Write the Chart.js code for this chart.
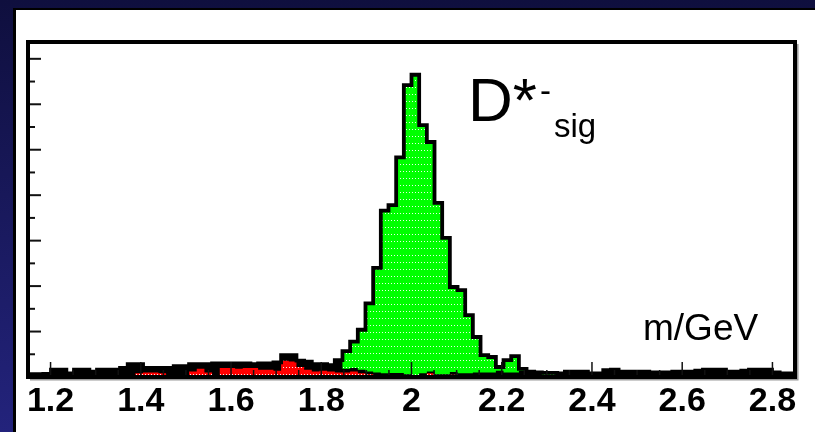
<!DOCTYPE html>
<html>
<head>
<meta charset="utf-8">
<script src="https://cdn.jsdelivr.net/npm/chart.js@4.4.1/dist/chart.umd.min.js"></script>
<style>
    html, body { margin: 0; padding: 0; width: 815px; height: 432px; overflow: hidden; }
    body { position: relative; background: linear-gradient(#0f0f3e, #23237c); font-family: "Liberation Sans", Arial, sans-serif; }
    #panel { position: absolute; left: 13px; top: 8px; right: -10px; bottom: -10px; background: #fff; border-left: 3px solid #000; border-top: 2px solid #000; }
    #chart { position: absolute; left: 0; top: 0; }
    .lbl { position: absolute; line-height: 1; white-space: nowrap; color: #000; }
</style>
</head>
<body>
<div id="panel"></div>
<canvas id="chart" width="815" height="432"></canvas>
<div class="lbl" style="left:468px; top:69px; font-size:62px;">D*</div>
<div class="lbl" style="left:540px; top:74px; font-size:33px;">-</div>
<div class="lbl" style="left:554px; top:109px; font-size:33px;">sig</div>
<div class="lbl" style="left:643px; top:309px; font-size:37px;">m/GeV</div>
<script>
// Mass histogram: 100 bins between 1.15 and 2.85 GeV
const X_MIN = 1.15;
const X_MAX = 2.85;
const N_BINS = 100;

const xTicks = [1.2, 1.4, 1.6, 1.8, 2.0, 2.2, 2.4, 2.6, 2.8];
const yMajorTicks = [100, 200, 300, 400, 500, 600, 700];
const yMinorTicks = [50, 150, 250, 350, 450, 550, 650];

// signal component (green)
const signal = [
    0, 0, 0, 0, 0, 0, 0, 0, 0, 0,
    0, 0, 0, 0, 0, 0, 0, 0, 0, 0,
    0, 0, 0, 0, 0, 0, 0, 0, 0, 0,
    0, 0, 0, 0, 0, 0, 0, 0, 0, 0,
    0, 39, 58, 88, 150, 230, 358, 369, 474, 636,
    661, 546, 505, 377, 300, 187, 183, 128, 78, 38,
    34, 8, 27, 36, 4, 0, 0, 4, 4, 0,
    0, 0, 0, 0, 0, 0, 0, 0, 0, 0,
    0, 0, 0, 0, 0, 0, 0, 0, 0, 0,
    0, 0, 0, 0, 0, 0, 0, 0, 0, 0
];

// red background, bottom of the stack
const redBg = [
    0, 0, 0, 0, 2, 0, 2, 0, 0, 0,
    2, 0, 0, 4, 8, 10, 10, 8, 0, 0,
    0, 12, 18, 10, 4, 20, 20, 18, 20, 20,
    16, 16, 14, 36, 34, 22, 16, 12, 14, 12,
    10, 10, 12, 8, 6, 4, 0, 3, 3, 0,
    0, 4, 8, 0, 0, 5, 0, 0, 0, 0,
    0, 0, 0, 0, 0, 0, 0, 0, 0, 0,
    0, 0, 0, 0, 0, 0, 0, 0, 0, 0,
    0, 0, 0, 0, 0, 0, 0, 0, 0, 0,
    0, 0, 0, 0, 0, 0, 0, 0, 0, 0
];

// remaining background (black)
const otherBg = [
    6, 6, 7, 16, 14, 8, 14, 16, 12, 16,
    14, 16, 20, 24, 20, 10, 10, 12, 20, 24,
    24, 16, 10, 18, 26, 10, 10, 12, 10, 8,
    14, 14, 18, 12, 14, 14, 18, 16, 14, 14,
    27, 8, 8, 8, 6, 6, 8, 6, 6, 6,
    4, 4, 4, 6, 6, 6, 8, 8, 10, 10,
    10, 14, 10, 10, 14, 12, 10, 5, 5, 8,
    12, 12, 12, 8, 8, 15, 16, 12, 12, 12,
    12, 10, 10, 10, 12, 12, 12, 14, 16, 16,
    16, 12, 12, 14, 16, 16, 16, 10, 8, 8
];

const binWidth = (X_MAX - X_MIN) / N_BINS;
const total = signal.map((v, i) => v + redBg[i] + otherBg[i]);

// one point per lower bin edge, plus the closing upper edge
function toSteps(values) {
    const pts = values.map((v, i) => ({ x: X_MIN + i * binWidth, y: v }));
    pts.push({ x: X_MAX, y: values[values.length - 1] });
    return pts;
}

const xMinorTicks = [];
for (let v = 1.15; v < 2.86; v += 0.05) {
    const r = Math.round(v * 100) / 100;
    if (!xTicks.some(t => Math.abs(t - r) < 1e-6)) xMinorTicks.push(r);
}

const canvas = document.getElementById('chart');
const ctx = canvas.getContext('2d');

function dotPattern(color) {
    const c = document.createElement('canvas');
    c.width = 3;
    c.height = 7;
    const g = c.getContext('2d');
    g.fillStyle = color;
    g.fillRect(0, 0, 3, 7);
    g.fillStyle = 'rgba(255,255,255,0.9)';
    g.fillRect(1, 3, 1, 1);
    return ctx.createPattern(c, 'repeat');
}

// frame and inward ticks, drawn over the histogram
const frameAndTicks = {
    id: 'frameAndTicks',
    afterDatasetsDraw(chart) {
        const { ctx, chartArea: a, scales: { x, y } } = chart;
        const seg = (x1, y1, x2, y2) => {
            ctx.beginPath();
            ctx.moveTo(x1, y1);
            ctx.lineTo(x2, y2);
            ctx.stroke();
        };
        ctx.save();
        ctx.strokeStyle = '#111';
        ctx.lineWidth = 2;
        yMajorTicks.forEach(v => { const p = y.getPixelForValue(v); seg(a.left, p, a.left + 13, p); });
        yMinorTicks.forEach(v => { const p = y.getPixelForValue(v); seg(a.left, p, a.left + 7, p); });
        ctx.lineWidth = 1.5;
        xTicks.forEach(v => { const p = x.getPixelForValue(v); seg(p, a.bottom, p, a.bottom - 15); });
        xMinorTicks.forEach(v => { const p = x.getPixelForValue(v); seg(p, a.bottom, p, a.bottom - 7); });

        ctx.strokeStyle = '#000';
        ctx.lineWidth = 4;
        ctx.strokeRect(a.left, a.top, a.right - a.left, a.bottom - a.top);

        ctx.strokeStyle = '#9a9a9a';
        ctx.lineWidth = 1.5;
        ctx.beginPath();
        ctx.moveTo(a.left + 2, a.bottom + 2.8);
        ctx.lineTo(a.right + 2.8, a.bottom + 2.8);
        ctx.lineTo(a.right + 2.8, a.top + 2);
        ctx.stroke();
        ctx.restore();
    }
};

// 'before': horizontal run at the bin's value, then the vertical edge
const stepDefaults = { stepped: 'before', pointRadius: 0, borderJoinStyle: 'miter', borderCapStyle: 'butt' };

new Chart(ctx, {
    type: 'line',
    data: {
        datasets: [
            { ...stepDefaults, label: 'total', data: toSteps(total), stack: 'sum', borderColor: '#000', borderWidth: 3.8, fill: false },
            { ...stepDefaults, label: 'red', data: toSteps(redBg), stack: 'comp', borderColor: 'transparent', borderWidth: 1, backgroundColor: dotPattern('#ff0000'), fill: 'origin' },
            { ...stepDefaults, label: 'other', data: toSteps(otherBg), stack: 'comp', borderColor: 'transparent', borderWidth: 1, backgroundColor: '#000', fill: 'origin' },
            { ...stepDefaults, label: 'signal', data: toSteps(signal), stack: 'comp', borderColor: 'transparent', borderWidth: 1, backgroundColor: dotPattern('#00ff00'), fill: 'origin' }
        ]
    },
    options: {
        responsive: false,
        animation: false,
        devicePixelRatio: 1,
        layout: { padding: { left: 28, right: 20, top: 42, bottom: 0 } },
        plugins: { legend: { display: false }, tooltip: { enabled: false } },
        scales: {
            x: {
                type: 'linear',
                min: X_MIN,
                max: X_MAX,
                grid: { display: false },
                border: { display: false },
                afterBuildTicks: s => { s.ticks = xTicks.map(v => ({ value: v })); },
                afterFit: s => { s.height = 55; },
                ticks: {
                    padding: 0,
                    color: '#000',
                    maxRotation: 0,
                    autoSkip: false,
                    font: { family: '"Liberation Sans", Arial, sans-serif', size: 34, weight: 'bold', lineHeight: 1 },
                    callback: v => String(Math.round(v * 10) / 10)
                }
            },
            y: { display: false, stacked: true, min: 0, max: 737 }
        }
    },
    plugins: [frameAndTicks]
});
</script>
</body>
</html>
